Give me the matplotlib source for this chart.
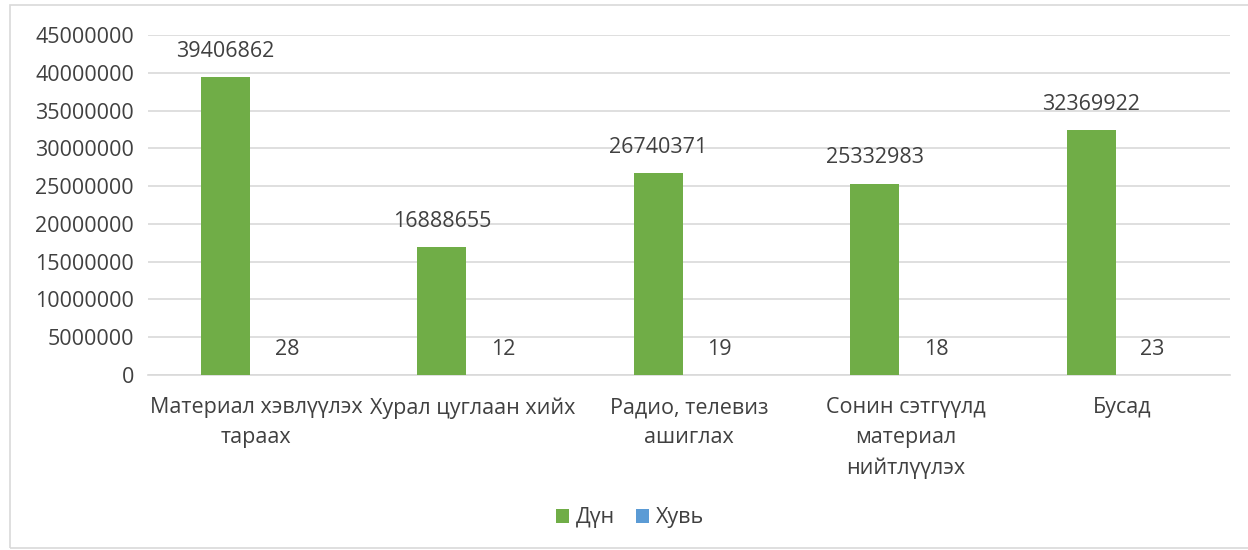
import numpy as np
import matplotlib
matplotlib.use("Agg")
import matplotlib.pyplot as plt
from matplotlib.patches import Rectangle

# data
categories = ["Материал хэвлүүлэх\nтараах", "Хурал цуглаан хийх",
              "Радио, телевиз\nашиглах", "Сонин сэтгүүлд\nматериал\nнийтлүүлэх",
              "Бусад"]
dun = [39406862, 16888655, 26740371, 25332983, 32369922]
huvi = [28, 12, 19, 18, 23]
series_names = ["Дүн", "Хувь"]

plt.rcParams['font.family'] = ['Open Sans', 'DejaVu Sans']
txt = '#404040'
grid = '#d9d9d9'
fs = 15.5

fig = plt.figure(figsize=(12.48, 5.5), dpi=100)
ax = fig.add_axes([148/1248, 1-375/550, (1230-148)/1248, (375-35)/550])

# outer chart border
fig.patches.append(Rectangle((10/1248, 2/550), 1250/1248, 543/550,
                             transform=fig.transFigure, fill=False,
                             edgecolor=grid, linewidth=1.2))

x = np.arange(len(categories))
w = 0.226
off = 0.142
b1 = ax.bar(x - off, dun, w, color='#70AD47', label=series_names[0], zorder=3)
b2 = ax.bar(x + off, huvi, w, color='#5B9BD5', label=series_names[1], zorder=3)

for rect, v in zip(b1, dun):
    ax.annotate(str(v), (rect.get_x() + rect.get_width()/2, v),
                xytext=(0, 11), textcoords='offset points', ha='center', va='bottom',
                fontsize=fs, color=txt)
for rect, v in zip(b2, huvi):
    ax.annotate(str(v), (rect.get_x() + rect.get_width()/2, v),
                xytext=(0, 11), textcoords='offset points', ha='center', va='bottom',
                fontsize=fs, color=txt)

ax.set_xlim(-0.5, len(categories) - 0.5)
ax.set_ylim(0, 45000000)
ax.set_yticks(np.arange(0, 45000001, 5000000))
ax.set_yticklabels([str(int(t)) for t in np.arange(0, 45000001, 5000000)])
ax.set_xticks(x)
ax.set_xticklabels(categories, linespacing=1.55)
ax.tick_params(axis='both', length=0, labelsize=fs, labelcolor=txt)
ax.tick_params(axis='y', pad=10)
ax.tick_params(axis='x', pad=16)
ax.yaxis.grid(True, color=grid, linewidth=1.2, zorder=0)
for s in ['top', 'right', 'left']:
    ax.spines[s].set_visible(False)
ax.spines['bottom'].set_color(grid)
ax.spines['bottom'].set_linewidth(1.2)

fig.legend(loc='center', bbox_to_anchor=(630/1248, 1-518/550), ncol=2,
           frameon=False, fontsize=fs, labelcolor=txt, handlelength=0.6,
           handleheight=0.6, handletextpad=0.3, columnspacing=1.0)

fig.savefig('out.png', dpi=100)
